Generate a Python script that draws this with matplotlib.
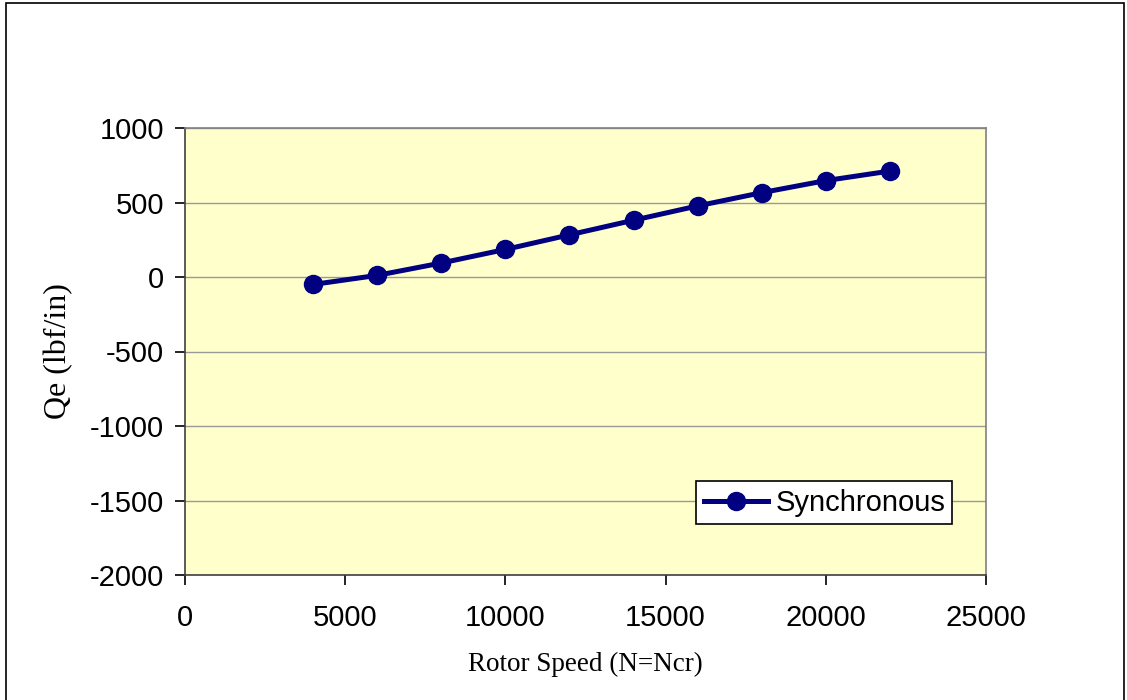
import matplotlib.pyplot as plt
from matplotlib.patches import Rectangle

plt.rcParams['axes.unicode_minus'] = False

# rotor speed vs. effective cross-coupled stiffness
speed = [4000, 6000, 8000, 10000, 12000, 14000, 16000, 18000, 20000, 22000]
qe = [-50, 11, 94, 185, 283, 381, 477, 566, 647, 711]

x_ticks = [0, 5000, 10000, 15000, 20000, 25000]
y_ticks = [1000, 500, 0, -500, -1000, -1500, -2000]

navy = '#000080'

fig = plt.figure(figsize=(11.27, 7.0), dpi=100)
ax = fig.add_axes([185 / 1127, 125 / 700, 801 / 1127, 447 / 700])
ax.set_facecolor('#FFFFCC')

ax.plot(speed, qe, color=navy, linewidth=3.6, marker='o', markersize=13,
        markerfacecolor=navy, markeredgecolor=navy, label='Synchronous', zorder=3)

ax.set_xlim(0, 25000)
ax.set_ylim(-2000, 1000)
ax.set_xticks(x_ticks)
ax.set_yticks(y_ticks)
ax.yaxis.grid(True, color='#999999', linewidth=1.0)
ax.set_axisbelow(True)

for side in ['top', 'right']:
    ax.spines[side].set_color('#808080')
    ax.spines[side].set_linewidth(1.2)
for side in ['left', 'bottom']:
    ax.spines[side].set_color('#404040')
    ax.spines[side].set_linewidth(1.2)

ax.tick_params(direction='out', length=7, width=1.2, color='black',
               labelsize=21, pad=8)
for lab in ax.get_xticklabels() + ax.get_yticklabels():
    lab.set_fontfamily('Liberation Sans')
ax.tick_params(axis='x', pad=14)

ax.set_xlabel('Rotor Speed (N=Ncr)', fontfamily='Liberation Serif', fontsize=19.5,
              labelpad=14)
ax.set_ylabel('Qe (lbf/in)', fontfamily='Liberation Serif', fontsize=23,
              labelpad=12)

leg = ax.legend(loc='lower right', bbox_to_anchor=(0.958, 0.114),
                prop={'family': 'Liberation Sans', 'size': 21},
                frameon=True, fancybox=False, framealpha=1.0,
                edgecolor='black', borderpad=0.25, handlelength=2.2,
                handletextpad=0.25, borderaxespad=0)
leg.get_frame().set_linewidth(1.2)

# outer border of the chart
fig.patches.append(Rectangle((6 / 1127, -0.01), 1118 / 1127, 1.0 - 3 / 700 + 0.01,
                             transform=fig.transFigure, fill=False,
                             edgecolor='black', linewidth=1.2))

fig.savefig('out.png', dpi=100, facecolor='white')
